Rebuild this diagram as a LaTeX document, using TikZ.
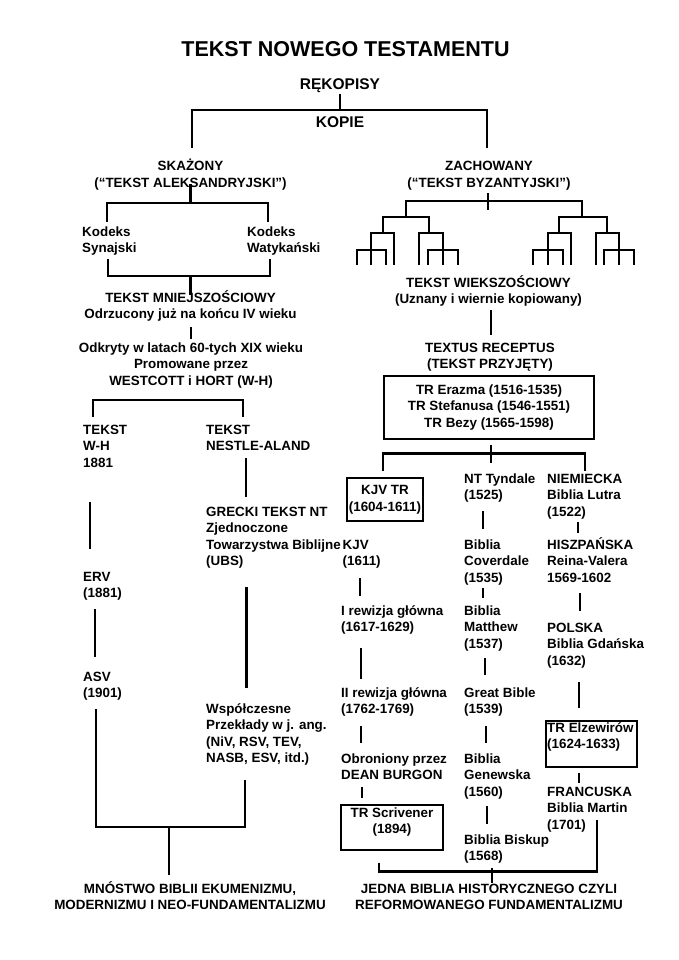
\documentclass[tikz,border=0pt]{standalone}
\usepackage{fontspec}
\setmainfont{Liberation Sans}
\usetikzlibrary{positioning}

\newcommand{\bodyfont}{\fontsize{13.4}{16.5}\selectfont\bfseries}
\newcommand{\headfont}{\fontsize{15.5}{18}\selectfont\bfseries}
\newcommand{\titlefont}{\fontsize{21.5}{24}\selectfont\bfseries}
% stacked lines, baseline on the first one
\newcommand{\lcol}[1]{\begin{tabular}[t]{@{}l@{}}#1\end{tabular}}
\newcommand{\ccol}[1]{\begin{tabular}[t]{@{}c@{}}#1\end{tabular}}

\tikzset{
  lt/.style={font=\bodyfont, inner sep=0pt, anchor=base west},
  ct/.style={font=\bodyfont, inner sep=0pt, anchor=base},
  link/.style={line width=2.4pt},
  twig/.style={line width=2pt},
  tbox/.style={draw, line width=1.2pt, inner sep=0pt},
}

\begin{document}
\begin{tikzpicture}[x=1pt, y=-1pt]
\fill[white] (0,0) rectangle (679,960);
\useasboundingbox (0,0) rectangle (679,960);
% title
\node[font=\titlefont, inner sep=0pt, anchor=base] (title) at (345.5,57) {TEKST NOWEGO TESTAMENTU};
% manuscripts and copies
\node[font=\headfont, inner sep=0pt, anchor=base] (rek) at (340,90) {RĘKOPISY};
\node[font=\headfont, inner sep=0pt, anchor=base] (kop) at (340,128) {KOPIE};
\draw[link] (rek.base) ++(0,4) -- ++(0,16) coordinate (kopJ);
\draw[link] (kopJ) -| ++(-148,38);
\draw[link] (kopJ) -| ++(147,38);

% left half: corrupted text
\node[ct] (skaz) at (190.5,171) {\ccol{SKAŻONY\\(“TEKST ALEKSANDRYJSKI”)}};
\draw[link] (skaz.base) ++(0,13) -- ++(0,19) coordinate (skJ);
\draw[link] (skJ) -| ++(-83.5,19);
\draw[link] (skJ) -| ++(77.5,19);
\node[lt] (sin) at (82,236) {\lcol{Kodeks\\Synajski}};
\node[lt] (wat) at (247,236) {\lcol{Kodeks\\Watykański}};
\draw[link] (sin.base west) ++(26,23) |- ++(82.5,17) coordinate (mnJ) -| ++(79.5,-17);
\draw[link] (mnJ) -- ++(0,19);
\node[ct] (mniej) at (190.5,302) {\ccol{TEKST MNIEJSZOŚCIOWY\\Odrzucony już na końcu IV wieku}};
\draw[link] (mniej.base) ++(0.5,25) -- ++(0,12);
\node[ct] (odk) at (191,352) {\ccol{Odkryty w latach 60-tych XIX wieku\\Promowane przez\\WESTCOTT i HORT (W-H)}};
\node[lt] (wh) at (83,434) {\lcol{TEKST\\W-H\\1881}};
\node[lt] (na) at (206,434) {\lcol{TEKST\\NESTLE-ALAND}};
\draw[link] (wh.base west) ++(10,-17) |- ++(150,-17) -- ++(0,17);
% W-H line
\draw[link] (wh.base west) ++(7,68) -- ++(0,47);
\node[lt] (erv) at (83,581) {\lcol{ERV\\(1881)}};
\draw[link] (erv.base west) ++(12,28) -- ++(0,48);
\node[lt] (asv) at (83,681) {\lcol{ASV\\(1901)}};
% Nestle-Aland line
\draw[link] (na.base west) ++(40,24) -- ++(0,39);
\node[lt] (grecki) at (206,516) {\lcol{GRECKI TEKST NT\\Zjednoczone\\Towarzystwa Biblijne\\(UBS)}};
\draw[link] (grecki.base west) ++(40.5,71) -- ++(0,101);
\node[lt] (wspol) at (206,713) {\lcol{Współczesne\\Przekłady w j. ang.\\(NiV, RSV, TEV,\\NASB, ESV, itd.)}};
% join at the bottom
\draw[link] (asv.base west) ++(13,28) |- ++(149,118) -- ++(0,-47);
\node[ct] (mnostwo) at (190,893) {\ccol{MNÓSTWO BIBLII EKUMENIZMU,\\MODERNIZMU I NEO-FUNDAMENTALIZMU}};
\draw[link] (mnostwo.base) ++(-21,-66) -- ++(0,48);

% right half: preserved text
\node[ct] (zach) at (489,171) {\ccol{ZACHOWANY\\(“TEKST BYZANTYJSKI”)}};
% branching of copies
\draw[link] (488,193) -- (488,210);
\draw[twig] (406,217) |- (582,201) -- (582,217);
\draw[twig] (383,233) |- (429,217) -- (429,233);
\draw[twig] (559,233) |- (607,217) -- (607,233);
\draw[twig] (371,265) |- (394,233) -- (394,265);
\draw[twig] (357,265) |- (386,250) -- (386,265);
\draw[twig] (419,265) |- (443,233) -- (443,265);
\draw[twig] (428,265) |- (458,250) -- (458,265);
\draw[twig] (548,265) |- (571,233) -- (571,265);
\draw[twig] (533,265) |- (563,250) -- (563,265);
\draw[twig] (596,265) |- (619,233) -- (619,265);
\draw[twig] (604,265) |- (634,250) -- (634,265);
\node[ct] (wieksz) at (488.5,287) {\ccol{TEKST WIEKSZOŚCIOWY\\(Uznany i wiernie kopiowany)}};
\draw[link] (wieksz.base) ++(2.5,23) -- ++(0,25);
\node[ct] (textus) at (490,352) {\ccol{TEXTUS RECEPTUS\\(TEKST PRZYJĘTY)}};
\node[tbox, font=\bodyfont, minimum width=210pt, minimum height=63pt] (trbox) at (489,407.5) {\ccol{TR Erazma (1516-1535)\\TR Stefanusa (1546-1551)\\TR Bezy (1565-1598)}};
\draw[link] (trbox.south) ++(2,5) -- ++(0,18);
\draw[link] (trbox.south) ++(-106,31) |- ++(202,-17) -- ++(0,17);
% English column
\node[tbox, font=\bodyfont, minimum width=76pt, minimum height=43pt] (kjvtr) at (385,499.5) {\ccol{KJV TR\\(1604-1611)}};
\node[lt] (kjv) at (342.5,549) {\lcol{KJV\\(1611)}};
\draw[link] (kjv.base west) ++(17.5,29) -- ++(0,18);
\node[lt] (rew1) at (341,615) {\lcol{I rewizja główna\\(1617-1629)}};
\draw[link] (rew1.base west) ++(20,33) -- ++(0,31);
\node[lt] (rew2) at (341,697) {\lcol{II rewizja główna\\(1762-1769)}};
\draw[link] (rew2.base west) ++(20,29) -- ++(0,17);
\node[lt] (burgon) at (341,763) {\lcol{Obroniony przez\\DEAN BURGON}};
\draw[link] (burgon.base west) ++(21,24) -- ++(0,11);
\node[tbox, minimum width=102pt, minimum height=45pt] (scrivbox) at (392,827.5) {};
\node[ct] (scriv) at (392,817) {\ccol{TR Scrivener\\(1894)}};
% Tyndale column
\node[lt] (tyn) at (464,483) {\lcol{NT Tyndale\\(1525)}};
\draw[link] (tyn.base west) ++(19,28) -- ++(0,18);
\node[lt] (cover) at (464,549) {\lcol{Biblia\\Coverdale\\(1535)}};
\draw[link] (cover.base west) ++(19,39) -- ++(0,10);
\node[lt] (matt) at (464,615) {\lcol{Biblia\\Matthew\\(1537)}};
\draw[link] (matt.base west) ++(21,43) -- ++(0,17);
\node[lt] (great) at (464,697) {\lcol{Great Bible\\(1539)}};
\draw[link] (great.base west) ++(22,29) -- ++(0,17);
\node[lt] (genew) at (464,763) {\lcol{Biblia\\Genewska\\(1560)}};
\draw[link] (genew.base west) ++(23,43) -- ++(0,18);
\node[lt] (biskup) at (464,844) {\lcol{Biblia Biskup\\(1568)}};
% other languages
\node[lt] (niem) at (547,483) {\lcol{NIEMIECKA\\Biblia Lutra\\(1522)}};
\draw[link] (niem.base west) ++(31,39) -- ++(0,11);
\node[lt] (hisz) at (547,549) {\lcol{HISZPAŃSKA\\Reina-Valera\\1569-1602}};
\draw[link] (hisz.base west) ++(33,44) -- ++(0,18);
\node[lt] (polska) at (547,632) {\lcol{POLSKA\\Biblia Gdańska\\(1632)}};
\draw[link] (polska.base west) ++(32,50) -- ++(0,26);
\node[tbox, minimum width=91pt, minimum height=46pt] (elzbox) at (591.5,744) {};
\node[lt] (elz) at (547,732) {\lcol{TR Elzewirów\\(1624-1633)}};
\draw[link] (elzbox.south) ++(-12.5,5) -- ++(0,10);
\node[lt] (franc) at (547,796) {\lcol{FRANCUSKA\\Biblia Martin\\(1701)}};
% join at the bottom
\draw[link] (scrivbox.south) ++(-13,12) |- ++(218,9) -- ++(0,-52);
\node[ct] (jedna) at (489,893) {\ccol{JEDNA BIBLIA HISTORYCZNEGO CZYLI\\REFORMOWANEGO FUNDAMENTALIZMU}};
\draw[link] (jedna.base) ++(3,-25) -- ++(0,15);
\end{tikzpicture}
\end{document}
